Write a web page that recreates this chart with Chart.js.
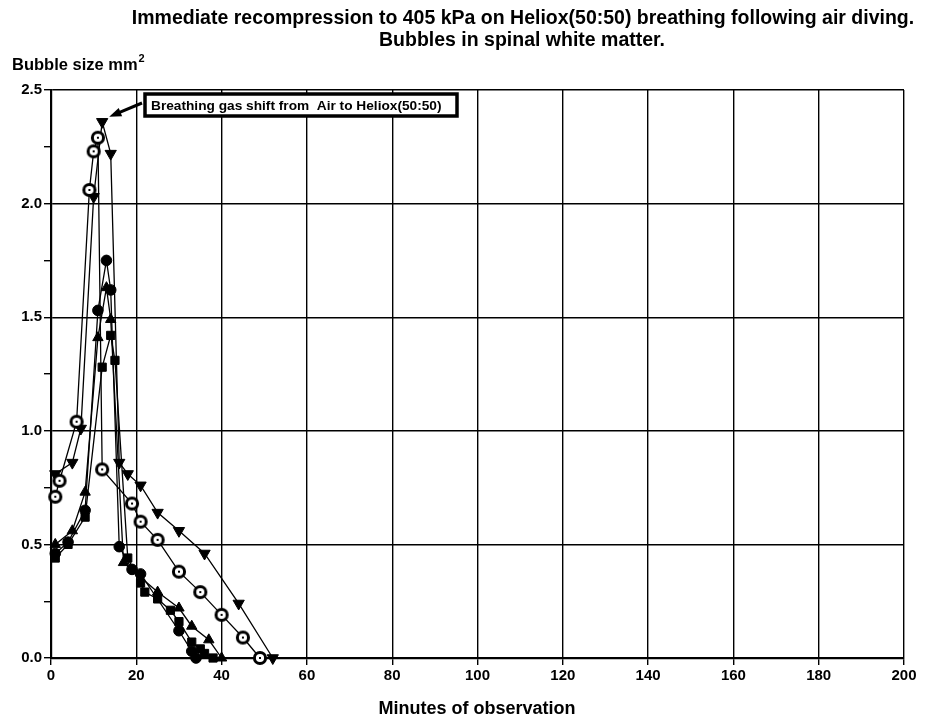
<!DOCTYPE html>
<html>
<head>
<meta charset="utf-8">
<script src="https://cdn.jsdelivr.net/npm/chart.js@4/dist/chart.umd.min.js"></script>
<style>
  body { margin: 0; background: #fff; }
  #wrap { width: 930px; height: 718px; }
</style>
</head>
<body>
<div id="wrap"><canvas id="chart"></canvas></div>
<script>
// open circles
const timeA = [1, 2, 6, 9, 10, 11, 12, 19, 21, 25, 30, 35, 40, 45, 49];
const sizeA = [0.71, 0.78, 1.04, 2.06, 2.23, 2.29, 0.83, 0.68, 0.60, 0.52, 0.38, 0.29, 0.19, 0.09, 0.0];
// inverted triangles
const timeB = [1, 5, 7, 10, 12, 14, 16, 18, 21, 25, 30, 36, 44, 52];
const sizeB = [0.81, 0.86, 1.01, 2.03, 2.36, 2.22, 0.86, 0.81, 0.76, 0.64, 0.56, 0.46, 0.24, 0.0];
// filled circles
const timeC = [1, 4, 8, 11, 13, 14, 16, 19, 21, 30, 33, 34];
const sizeC = [0.46, 0.51, 0.65, 1.53, 1.75, 1.62, 0.49, 0.39, 0.37, 0.12, 0.03, 0.0];
// triangles
const timeD = [1, 5, 8, 11, 13, 14, 17, 25, 30, 33, 37, 40];
const sizeD = [0.50, 0.56, 0.73, 1.41, 1.63, 1.49, 0.42, 0.29, 0.22, 0.14, 0.08, 0.0];
// squares
const timeE = [1, 4, 8, 12, 14, 15, 18, 21, 22, 25, 28, 30, 33, 35, 36, 38];
const sizeE = [0.44, 0.50, 0.62, 1.28, 1.42, 1.31, 0.44, 0.33, 0.29, 0.26, 0.21, 0.16, 0.07, 0.04, 0.02, 0.0];

const xTicks = [0, 20, 40, 60, 80, 100, 120, 140, 160, 180, 200];
const yTicks = [0.0, 0.5, 1.0, 1.5, 2.0, 2.5];

const FONT = '"Liberation Sans", Arial, sans-serif';

function pts(xs, ys) {
  return xs.map((x, i) => ({ x: x, y: ys[i] }));
}

// ring marker with a small dot mark
function ringMarker() {
  const c = document.createElement('canvas');
  c.width = 16; c.height = 16;
  const g = c.getContext('2d');
  g.beginPath();
  g.arc(8, 8, 5.6, 0, Math.PI * 2);
  g.fillStyle = '#fff';
  g.fill();
  g.lineWidth = 3;
  g.strokeStyle = '#000';
  g.stroke();
  g.fillStyle = '#000';
  g.fillRect(7, 7, 2, 2);
  return c;
}

function series(xs, ys, style, extra) {
  return Object.assign({
    data: pts(xs, ys),
    borderColor: '#000',
    borderWidth: 1.3,
    backgroundColor: '#000',
    pointBorderColor: '#000',
    pointBackgroundColor: '#000',
    pointStyle: style,
    pointRadius: 5,
    pointBorderWidth: 1,
    tension: 0,
    clip: false
  }, extra || {});
}

const overlay = {
  id: 'overlay',
  afterDraw(chart) {
    const ctx = chart.ctx;
    const xs = chart.scales.x, ys = chart.scales.y;
    ctx.save();
    ctx.fillStyle = '#000';
    ctx.textBaseline = 'alphabetic';

    // title
    ctx.font = 'bold 19.5px ' + FONT;
    ctx.textAlign = 'center';
    ctx.fillText('Immediate recompression to 405 kPa on Heliox(50:50) breathing following air diving.', 523, 24);
    ctx.fillText('Bubbles in spinal white matter.', 522, 46);

    // y axis label
    ctx.textAlign = 'left';
    ctx.font = 'bold 16.5px ' + FONT;
    const lab = 'Bubble size mm';
    ctx.fillText(lab, 12, 70);
    const w = ctx.measureText(lab).width;
    ctx.font = 'bold 11px ' + FONT;
    ctx.fillText('2', 12 + w + 1, 62);

    // x axis label
    ctx.font = 'bold 18px ' + FONT;
    ctx.textAlign = 'center';
    ctx.fillText('Minutes of observation', 477, 714);

    // annotation box
    const bx = 145, by = 94, bw = 312, bh = 22;
    ctx.fillStyle = '#fff';
    ctx.fillRect(bx, by, bw, bh);
    ctx.lineWidth = 3.5;
    ctx.strokeStyle = '#000';
    ctx.strokeRect(bx, by, bw, bh);
    ctx.fillStyle = '#000';
    ctx.font = 'bold 13.7px ' + FONT;
    ctx.textAlign = 'left';
    ctx.fillText('Breathing gas shift from  Air to Heliox(50:50)', bx + 6, by + 16);

    // arrow pointing at the inverted-triangle peak
    const px = xs.getPixelForValue(timeB[4]) + 7;
    const py = ys.getPixelForValue(sizeB[4]) - 5;
    const tx = bx - 3, ty = by + 9;
    const ang = Math.atan2(py - ty, px - tx);
    ctx.lineWidth = 3;
    ctx.beginPath();
    ctx.moveTo(tx, ty);
    ctx.lineTo(px + 10 * Math.cos(ang + Math.PI), py + 10 * Math.sin(ang + Math.PI));
    ctx.stroke();
    ctx.beginPath();
    ctx.moveTo(px, py);
    ctx.lineTo(px - 13 * Math.cos(ang - 0.35), py - 13 * Math.sin(ang - 0.35));
    ctx.lineTo(px - 13 * Math.cos(ang + 0.35), py - 13 * Math.sin(ang + 0.35));
    ctx.closePath();
    ctx.fill();
    ctx.restore();
  }
};

new Chart(document.getElementById('chart'), {
  type: 'line',
  data: {
    datasets: [
      series(timeA, sizeA, ringMarker(), { pointRadius: 7 }),
      series(timeB, sizeB, 'triangle', { pointRotation: 180, pointRadius: 6.5 }),
      series(timeC, sizeC, 'circle', { pointRadius: 5.3 }),
      series(timeD, sizeD, 'triangle', { pointRadius: 6 }),
      series(timeE, sizeE, 'rect', { pointRadius: 5.8 })
    ]
  },
  options: {
    responsive: true,
    maintainAspectRatio: false,
    animation: false,
    layout: { padding: { top: 90, right: 26, left: 0, bottom: 0 } },
    plugins: {
      legend: { display: false },
      tooltip: { enabled: false },
      title: { display: false }
    },
    scales: {
      x: {
        type: 'linear',
        min: 0, max: 200,
        afterBuildTicks: s => { s.ticks = xTicks.map(v => ({ value: v })); },
        ticks: {
          color: '#000',
          font: { family: FONT, size: 15, weight: 'bold' },
          padding: 2,
          maxRotation: 0,
          callback: v => String(v)
        },
        grid: { color: '#000', lineWidth: 1.4, tickLength: 7, tickColor: '#000', tickWidth: 1.4 },
        border: { color: '#000', width: 2.2 },
        afterFit: s => { s.height = 60; }
      },
      y: {
        min: 0, max: 2.5,
        afterBuildTicks: s => {
          const t = [];
          for (let i = 0; i <= 10; i++) t.push({ value: i * 0.25 });
          s.ticks = t;
        },
        ticks: {
          color: '#000',
          font: { family: FONT, size: 15, weight: 'bold' },
          padding: 2,
          callback: v => yTicks.some(t => Math.abs(t - v) < 1e-6) ? v.toFixed(1) : ''
        },
        grid: {
          color: c => (Math.abs(c.tick.value / 0.5 - Math.round(c.tick.value / 0.5)) < 1e-6) ? '#000' : 'rgba(0,0,0,0)',
          lineWidth: 1.4,
          tickLength: 7,
          tickColor: '#000',
          tickWidth: 1.4
        },
        border: { color: '#000', width: 2.2 },
        afterFit: s => { s.width = 51; }
      }
    }
  },
  plugins: [overlay]
});
</script>
</body>
</html>
